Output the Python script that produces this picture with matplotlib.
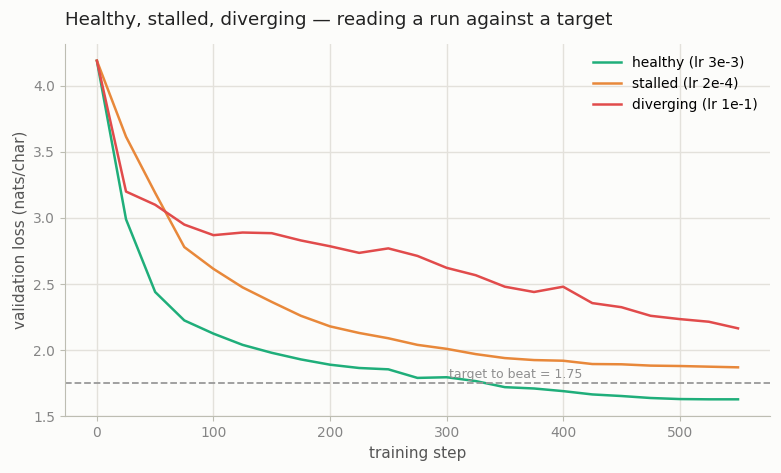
import numpy as np
import matplotlib.pyplot as plt

# training steps (every 25)
steps = np.arange(0, 551, 25)

healthy = [4.19, 2.99, 2.44, 2.225, 2.125, 2.04, 1.98, 1.93, 1.89, 1.865, 1.855, 1.79,
           1.795, 1.766, 1.72, 1.71, 1.69, 1.665, 1.653, 1.638, 1.63, 1.628, 1.628]
stalled = [4.19, 3.615, 3.19, 2.78, 2.615, 2.475, 2.365, 2.26, 2.18, 2.13, 2.09, 2.04,
           2.01, 1.97, 1.94, 1.925, 1.92, 1.895, 1.893, 1.883, 1.88, 1.875, 1.87]
diverging = [4.19, 3.20, 3.10, 2.95, 2.87, 2.89, 2.885, 2.83, 2.786, 2.736, 2.77, 2.713,
             2.623, 2.567, 2.48, 2.44, 2.48, 2.356, 2.325, 2.26, 2.235, 2.215, 2.165]

labels = ["healthy (lr 3e-3)", "stalled (lr 2e-4)", "diverging (lr 1e-1)"]
colors = ["#1fae7a", "#e8883a", "#e14b4b"]
target = 1.75

bg = "#fcfcfa"
fig, ax = plt.subplots(figsize=(7.81, 4.73), dpi=100)
fig.patch.set_facecolor(bg)
ax.set_facecolor(bg)

for ys, lab, c in zip([healthy, stalled, diverging], labels, colors):
    ax.plot(steps, ys, color=c, lw=1.8, label=lab)

ax.axhline(target, color="#999999", ls="--", lw=1.3)
ax.text(302, target + 0.015, f"target to beat = {target}", color="#8f8f8f",
        fontsize=9, va="bottom", ha="left")

ax.set_xlim(-27.5, 577.5)
ax.set_ylim(1.5, 4.32)
ax.set_xticks([0, 100, 200, 300, 400, 500])
ax.set_yticks([1.5, 2.0, 2.5, 3.0, 3.5, 4.0])

ax.grid(True, color="#e3e1db", lw=1)
ax.set_axisbelow(True)
for s in ["top", "right"]:
    ax.spines[s].set_visible(False)
for s in ["left", "bottom"]:
    ax.spines[s].set_color("#bdbdb2")
ax.tick_params(colors="#bdbdb2", labelcolor="#858585", labelsize=10)

ax.set_xlabel("training step", color="#555555", fontsize=11)
ax.set_ylabel("validation loss (nats/char)", color="#555555", fontsize=11)
ax.set_title("Healthy, stalled, diverging — reading a run against a target",
             loc="left", fontsize=13.2, color="#222222", pad=13)

leg = ax.legend(loc="upper right", frameon=False, fontsize=10)

fig.subplots_adjust(left=0.083, right=0.986, top=0.908, bottom=0.12)
fig.savefig("out.png", dpi=100, facecolor=bg)
